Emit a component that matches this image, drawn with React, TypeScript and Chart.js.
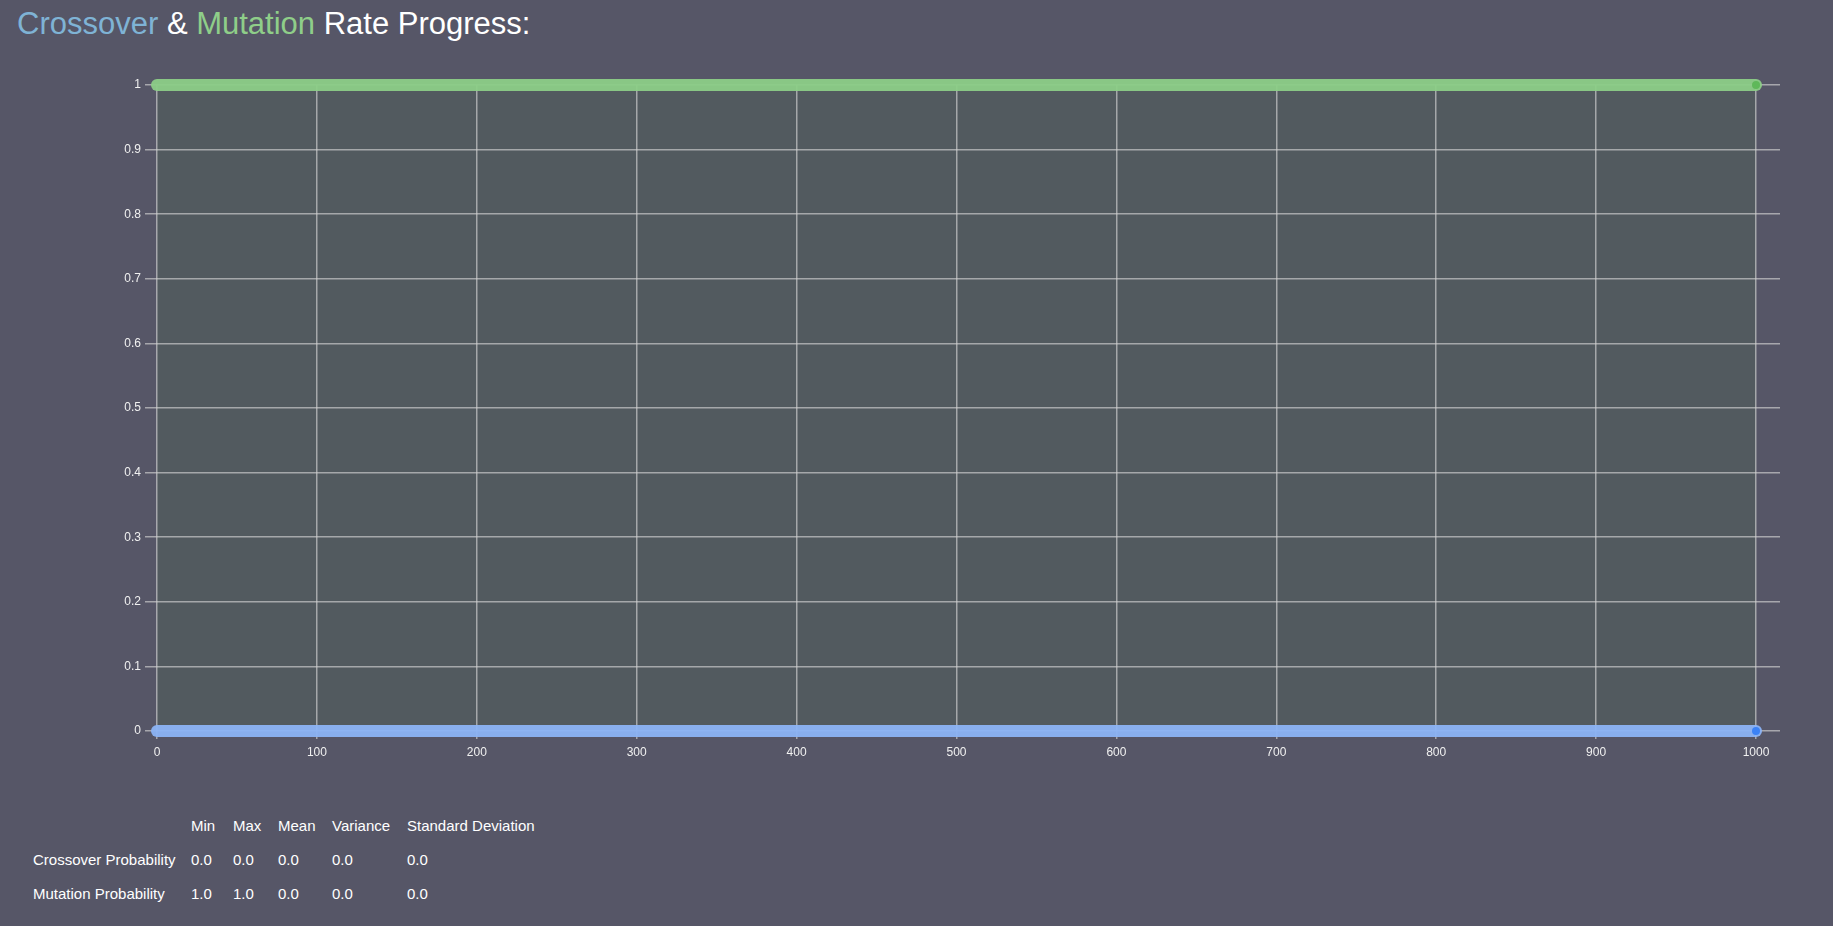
import React, { useEffect, useRef } from "react";
import { Chart, registerables } from "chart.js";
Chart.register(...registerables);

const generations = [0, 1000];
const crossoverValues = [0, 0];
const mutationValues = [1, 1];
const xTicks = [0, 100, 200, 300, 400, 500, 600, 700, 800, 900, 1000];
const yTicks = [0, 0.1, 0.2, 0.3, 0.4, 0.5, 0.6, 0.7, 0.8, 0.9, 1];
const statHeaders = ["Min", "Max", "Mean", "Variance", "Standard Deviation"];
const statRows = [
  { name: "Crossover Probability", values: ["0.0", "0.0", "0.0", "0.0", "0.0"] },
  { name: "Mutation Probability", values: ["1.0", "1.0", "0.0", "0.0", "0.0"] },
];

const bgPlugin = {
  id: "plotbg",
  beforeDraw(chart: any) {
    const { ctx, scales } = chart;
    const x0 = scales.x.getPixelForValue(0);
    const x1 = scales.x.getPixelForValue(1000);
    const y0 = scales.y.getPixelForValue(0);
    const y1 = scales.y.getPixelForValue(1);
    ctx.save();
    ctx.fillStyle = "#525a5f";
    ctx.fillRect(x0, y1, x1 - x0, y0 - y1);
    ctx.restore();
  },
};

export default function App() {
  const ref = useRef<HTMLCanvasElement>(null);
  useEffect(() => {
    document.body.style.background = "#565667";
    const mk = (vals: number[]) => generations.map((g, i) => ({ x: g, y: vals[i] }));
    const tickFont = { size: 12, family: "Liberation Sans, Arial" };
    const chart = new Chart(ref.current!, {
      type: "line",
      data: {
        datasets: [
          {
            data: mk(mutationValues),
            borderColor: "rgba(140,205,135,0.95)",
            borderWidth: 12,
            borderCapStyle: "round",
            clip: false,
            pointRadius: [0, 4],
            pointBackgroundColor: "#5fb85a",
            pointBorderWidth: 0,
            pointHoverRadius: 0,
          },
          {
            data: mk(crossoverValues),
            borderColor: "rgba(140,180,245,0.95)",
            borderWidth: 12,
            borderCapStyle: "round",
            clip: false,
            pointRadius: [0, 4],
            pointBackgroundColor: "#3b82f6",
            pointBorderWidth: 0,
            pointHoverRadius: 0,
          },
        ],
      },
      options: {
        animation: false,
        responsive: false,
        layout: { padding: { top: 35, right: 53, left: 0, bottom: 0 } },
        plugins: { legend: { display: false }, tooltip: { enabled: false } },
        scales: {
          x: {
            type: "linear",
            min: 0,
            max: 1015,
            afterBuildTicks: (s: any) => { s.ticks = xTicks.map((v) => ({ value: v })); },
            afterFit: (s: any) => { s.height = 39; },
            grid: { color: "rgba(210,210,210,0.65)", lineWidth: 1.5, tickLength: 8 },
            border: { display: false },
            ticks: { color: "#f0f0f0", font: tickFont, maxRotation: 0, padding: 6, callback: (v: any) => String(v) },
          },
          y: {
            type: "linear",
            min: 0,
            max: 1,
            afterBuildTicks: (s: any) => { s.ticks = yTicks.map((v) => ({ value: v })); },
            afterFit: (s: any) => { s.width = 157; },
            grid: { color: "rgba(210,210,210,0.65)", lineWidth: 1.5, tickLength: 12 },
            border: { display: false },
            ticks: { color: "#f0f0f0", font: tickFont, padding: 4, callback: (v: any) => String(v) },
          },
        },
      },
      plugins: [bgPlugin],
    } as any);
    return () => chart.destroy();
  }, []);

  const font = "'Liberation Sans', Arial, sans-serif";
  const colLeft = [191, 233, 278, 332, 407];
  return (
    <div style={{ position: "absolute", left: 0, top: 0, width: 1833, height: 926, background: "#565667", fontFamily: font, color: "#fff", overflow: "hidden" }}>
      <div style={{ position: "absolute", left: 17, top: 6, fontSize: 31, whiteSpace: "nowrap" }}>
        <span style={{ color: "#7fb3d5" }}>Crossover</span> &amp; <span style={{ color: "#8fce89" }}>Mutation</span> Rate Progress:
      </div>
      <canvas ref={ref} width={1833} height={720} style={{ position: "absolute", left: 0, top: 50, width: 1833, height: 720 }} />
      {statHeaders.map((h, i) => (
        <div key={h} style={{ position: "absolute", left: colLeft[i], top: 817, fontSize: 15, whiteSpace: "nowrap" }}>{h}</div>
      ))}
      {statRows.map((r, ri) => (
        <React.Fragment key={r.name}>
          <div style={{ position: "absolute", left: 33, top: 851 + ri * 34, fontSize: 15, whiteSpace: "nowrap" }}>{r.name}</div>
          {r.values.map((v, i) => (
            <div key={i} style={{ position: "absolute", left: colLeft[i], top: 851 + ri * 34, fontSize: 15 }}>{v}</div>
          ))}
        </React.Fragment>
      ))}
    </div>
  );
}
